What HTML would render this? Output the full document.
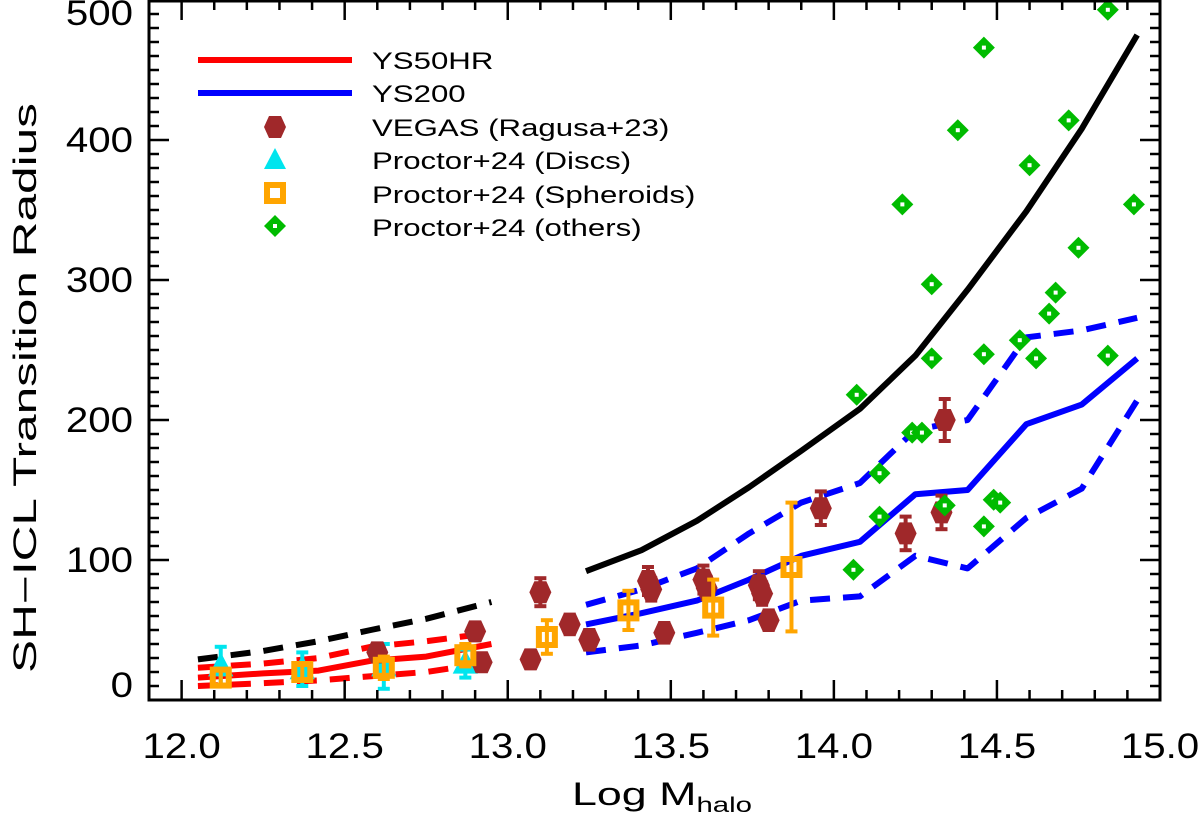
<!DOCTYPE html>
<html><head><meta charset="utf-8"><style>
html,body{margin:0;padding:0;background:#fff;}
svg{display:block;font-family:"Liberation Sans","DejaVu Sans",sans-serif;}
</style></head><body>
<svg id="chart" width="1200" height="815" viewBox="0 0 1200 815" xmlns="http://www.w3.org/2000/svg">
<g id="plot"></g>
<g id="axes"></g>
<g id="legend"></g>
</svg>
<script>
// ---- data ----
const lowX = [12.05,12.25,12.42,12.58,12.75,12.95];
const blackLowY = [29,35,42,50,58,70];
const redMidY = [16,19,21,28,31,40];
const redHiY = [23,26,30,38,42,48];
const redLoY = [10,12,14,17,20,27];
const highX = [13.24,13.41,13.58,13.74,13.90,14.08,14.25,14.41,14.59,14.76,14.93];
const blackHighY = [92,107,128,152,178,208,246,293,349,408,475];
const blueMidY = [54,62,71,86,103,113,147,150,197,211,244];
const blueHiY = [68,79,94,119,141,155,193,200,259,264,273];
const blueLoY = [34,39,48,57,71,74,103,94,130,151,214];
const othersX = [14.84,14.46,14.38,14.72,14.21,14.60,14.30,14.92,14.75,14.68,14.66,14.57,14.30,14.46,14.62,14.84,14.07,14.14,14.24,14.27,14.14,14.34,14.49,14.51,14.46,14.06];
const othersY = [493,466,407,414,354,382,297,354,323,291,276,257,244,247,244,246,218,162,191,191,131,139,143,141,124,93];
const vegasX = [12.60,12.90,12.92,13.07,13.10,13.19,13.25,13.43,13.44,13.48,13.60,13.61,13.77,13.78,13.80,13.96,14.22,14.33,14.34];
const vegasY = [34,49,27,29,77,54,43,85,79,48,86,80,82,76,57,137,119,134,200];
const vegasErr = [6,6,5,4,10,7,7,10,8,7,10,8,10,8,7,12,12,12,15];
const sphX = [12.12,12.37,12.62,12.87,13.12,13.37,13.63,13.87];
const sphY = [16,20,23,32,45,64,66,95];
const sphErr = [5,5,8,8,12,14,20,46];
const discX = [12.12,12.37,12.62,12.87];
const discY = [24,22,24,26];
const discErr = [14,12,16,10];
const xTicks = [12.0,12.5,13.0,13.5,14.0,14.5,15.0];
const xTickLabels = ["12.0","12.5","13.0","13.5","14.0","14.5","15.0"];
const yTicks = [0,100,200,300,400,500];
const yTickLabels = ["0","100","200","300","400","500"];

// ---- scales ----
const L=149,R=1160,T=0,B=700,XMIN=11.9,XMAX=15.0,YMIN=0,YMAX=500;
const X=v=>L+(v-XMIN)/(XMAX-XMIN)*(R-L);
const Y=v=>B-(v-YMIN)/(YMAX-YMIN)*(B-T);
const NS="http://www.w3.org/2000/svg";
function mk(tag,attrs,parent){const e=document.createElementNS(NS,tag);for(const k in attrs)e.setAttribute(k,attrs[k]);parent.appendChild(e);return e;}
const plot=document.getElementById('plot'),axes=document.getElementById('axes'),legend=document.getElementById('legend');

function line(xs,ys,color,dash,name){
  const p=mk('polyline',{points:xs.map((x,i)=>X(x)+','+Y(ys[i])).join(' '),fill:'none',stroke:color,'stroke-width':6,'stroke-dasharray':dash||'none','stroke-linejoin':'round'},plot);
  
  
}
line(lowX,blackLowY,'#000','20 13','black-dashed-line');
line(lowX,redHiY,'#f00','20 13','ys50hr-upper-dashed');
line(lowX,redLoY,'#f00','20 13','ys50hr-lower-dashed');
line(lowX,redMidY,'#f00',null,'ys50hr-line');
line(highX,blackHighY,'#000',null,'black-solid-line');
line(highX,blueHiY,'#00f','20 13','ys200-upper-dashed');
line(highX,blueLoY,'#00f','20 13','ys200-lower-dashed');
line(highX,blueMidY,'#00f',null,'ys200-line');

function errbar(x,y,e,color){
  const g=mk('g',{stroke:color,'stroke-width':4},plot);
  mk('line',{x1:x,x2:x,y1:y-e,y2:y+e},g);
  mk('line',{x1:x-6,x2:x+6,y1:y-e,y2:y-e},g);
  mk('line',{x1:x-6,x2:x+6,y1:y+e,y2:y+e},g);
  return g;
}
function tri(cx,cy,parent){return mk('polygon',{points:`${cx},${cy-12} ${cx+11},${cy+9} ${cx-11},${cy+9}`,fill:'#00e5ee',stroke:'#00e5ee','stroke-width':2},parent);}
function sq(cx,cy,parent){return mk('rect',{x:cx-8,y:cy-8,width:16,height:16,fill:'none',stroke:'#ffa500','stroke-width':6},parent);}
function dia(cx,cy,parent){const g=mk('g',{},parent);mk('polygon',{points:`${cx},${cy-11} ${cx+11},${cy} ${cx},${cy+11} ${cx-11},${cy}`,fill:'#00bb00'},g);mk('rect',{x:cx-2,y:cy-2,width:4,height:4,fill:'#fff'},g);return g;}
function vg(cx,cy,parent){return mk('polygon',{points:`${cx-6},${cy-11} ${cx+6},${cy-11} ${cx+11},${cy} ${cx+6},${cy+11} ${cx-6},${cy+11} ${cx-11},${cy}`,fill:'#a0282a'},parent);}

discX.forEach((v,i)=>{
  const g=errbar(X(v),Y(discY[i]),discErr[i]*1.4,'#00e5ee');
  
  
  const t=tri(X(v),Y(discY[i]),plot);
  
  
});
vegasX.forEach((v,i)=>{
  const g=errbar(X(v),Y(vegasY[i]),vegasErr[i]*1.4,'#a0282a');
  
  
  const p=vg(X(v),Y(vegasY[i]),plot);
  
  
});
sphX.forEach((v,i)=>{
  const g=errbar(X(v),Y(sphY[i]),sphErr[i]*1.4,'#ffa500');
  
  
  const s=sq(X(v),Y(sphY[i]),plot);
  
  
});
othersX.forEach((v,i)=>{
  const d=dia(X(v),Y(othersY[i]),plot);
  
  
});

// ---- axes ----
mk('rect',{x:L,y:T+1,width:R-L,height:B-T-1,fill:'none',stroke:'#000','stroke-width':3},axes);
for(let v=12.0;v<=15.0001;v+=0.1){
  const major=Math.abs(v*2-Math.round(v*2))<1e-6;const len=major?20:10;const x=X(v);
  mk('line',{x1:x,x2:x,y1:B,y2:B-len,stroke:'#000','stroke-width':2.5},axes);
  mk('line',{x1:x,x2:x,y1:T,y2:T+len,stroke:'#000','stroke-width':2.5},axes);
}
for(let v=10;v<500;v+=10){
  const major=v%100===0;const len=major?20:10;const y=Y(v);
  mk('line',{x1:L,x2:L+len,y1:y,y2:y,stroke:'#000','stroke-width':2.5},axes);
  mk('line',{x1:R,x2:R-len,y1:y,y2:y,stroke:'#000','stroke-width':2.5},axes);
}
xTicks.forEach((v,i)=>{
  const t=mk('text',{x:0,y:0,transform:`translate(${X(v)},758) scale(1.15,1)`,'text-anchor':'middle','font-size':35,fill:'#000'},axes);
  t.textContent=xTickLabels[i];
  
  
});
yTicks.forEach((v,i)=>{
  let y=Y(v)+12; if(v===0) y=697; if(v===500) y=25;
  const t=mk('text',{x:0,y:0,transform:`translate(133,${y}) scale(1.15,1)`,'text-anchor':'end','font-size':35,fill:'#000'},axes);
  t.textContent=yTickLabels[i];
  
  
});
</script>
<svg style="position:absolute;left:0;top:0" width="1200" height="815" xmlns="http://www.w3.org/2000/svg" font-family="Liberation Sans, DejaVu Sans, sans-serif">
<text x="0" y="0" transform="translate(36,388) rotate(-90) scale(1.55,1)" text-anchor="middle" font-size="32" fill="#000">SH−ICL Transition Radius</text>
<text x="0" y="0" transform="translate(572,805) scale(1.4,1)" font-size="32" fill="#000">Log M<tspan font-size="21" dy="7">halo</tspan></text>
<g font-size="24" fill="#000">
<g><line x1="198" x2="352" y1="60" y2="60" stroke="#f00" stroke-width="6"/><text transform="translate(372,69) scale(1.3,1)">YS50HR</text></g>
<g><line x1="198" x2="352" y1="93" y2="93" stroke="#00f" stroke-width="6"/><text transform="translate(372,102) scale(1.3,1)">YS200</text></g>
<g><polygon points="269,116 281,116 286,127 281,138 269,138 264,127" fill="#a0282a"/><text transform="translate(372,136) scale(1.3,1)">VEGAS (Ragusa+23)</text></g>
<g><polygon points="275,148 286,169 264,169" fill="#00e5ee"/><text transform="translate(372,169) scale(1.3,1)">Proctor+24 (Discs)</text></g>
<g><rect x="267" y="185" width="16" height="16" fill="none" stroke="#ffa500" stroke-width="6"/><text transform="translate(372,203) scale(1.3,1)">Proctor+24 (Spheroids)</text></g>
<g><polygon points="275,215 286,226 275,237 264,226" fill="#00bb00"/><rect x="273" y="224" width="4" height="4" fill="#fff"/><text transform="translate(372,236) scale(1.3,1)">Proctor+24 (others)</text></g>
</g>
</svg>
</body></html>
